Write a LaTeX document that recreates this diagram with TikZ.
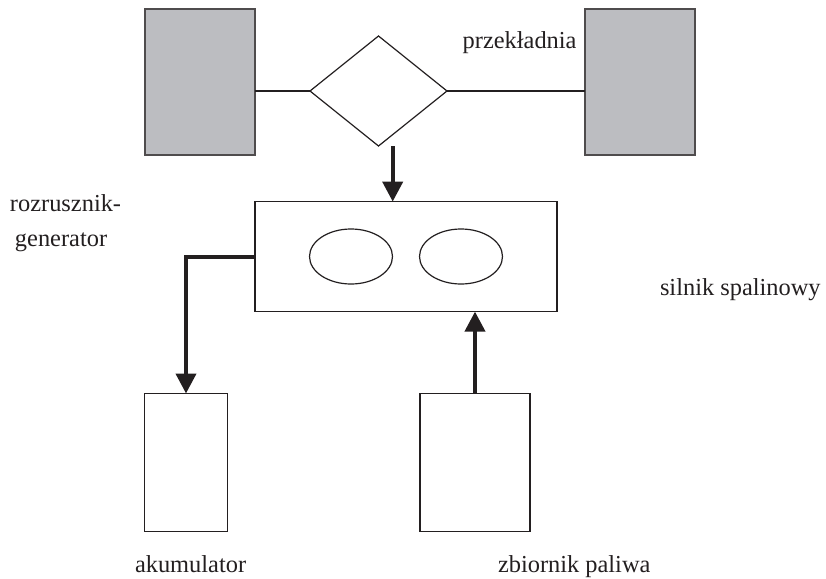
\documentclass[tikz,border=0pt]{standalone}
\usepackage{fontspec}
\setmainfont{Liberation Serif}
\usetikzlibrary{shapes.geometric,arrows.meta}
\definecolor{wheelgray}{RGB}{188,189,193}
\definecolor{inkc}{RGB}{35,31,32}
\tikzset{
  box/.style={draw=inkc, line width=0.6pt, fill=white, inner sep=0pt, outer sep=0pt, minimum width=#1},
  wheel/.style={draw=inkc!80, line width=0.6pt, fill=wheelgray, inner sep=0pt, outer sep=0pt, minimum width=55pt, minimum height=73pt},
  gear/.style={diamond, draw=inkc, line width=0.6pt, inner sep=0pt, outer sep=0pt, minimum width=68.5pt, minimum height=55pt},
  cyl/.style={ellipse, draw=inkc, line width=0.6pt, inner sep=0pt, outer sep=0pt, minimum width=41.5pt, minimum height=27.5pt},
  thin/.style={draw=inkc, line width=0.6pt},
  flow/.style={draw=inkc, line width=2pt, -{Triangle[width=10pt,length=10pt]}},
  lbl/.style={inner sep=0pt, outer sep=0pt, anchor=base west, text=inkc, font=\fontsize{12.2}{14}\selectfont}
}
\begin{document}
\begin{tikzpicture}[x=0.5pt,y=-0.5pt]
\useasboundingbox (0,0) rectangle (826,579);
% wheels and gearbox
\node[wheel] (lw) at (200,82) {};
\node[wheel] (rw) at (640,82) {};
\node[gear] (gb) at (378.5,91) {};
\draw[thin] (gb.west) -- (gb.west -| lw.east);
\draw[thin] (gb.east) -- (gb.east -| rw.west);
% engine
\node[box=151pt, minimum height=55pt] (eng) at (406,256.6) {};
\node[cyl] (c1) at (351,256.5) {};
\node[cyl] (c2) at (461,256.5) {};
% battery and fuel tank
\node[box=41.75pt, minimum height=69pt] (akum) at (186,462.5) {};
\node[box=55pt, minimum height=69pt] (tank) at (475,462.5) {};
% connectors
\coordinate (gbout) at (392.7,146);
\draw[flow] (gbout) -- (gbout |- eng.north);
\draw[flow] (eng.west) -| (akum.north);
\draw[flow] (tank.north) -- (tank.north |- eng.south);
% labels
\node[lbl] (tprz) at (462.7,48) {przekładnia};
\node[lbl] (trg1) at (10,211.7) {rozrusznik-};
\node[lbl] (trg2) at (15,246.7) {generator};
\node[lbl] (tsil) at (660,295) {silnik spalinowy};
\node[lbl] (takum) at (135,572) {akumulator};
\node[lbl] (tzb) at (498,572) {zbiornik paliwa};
\end{tikzpicture}
\end{document}
